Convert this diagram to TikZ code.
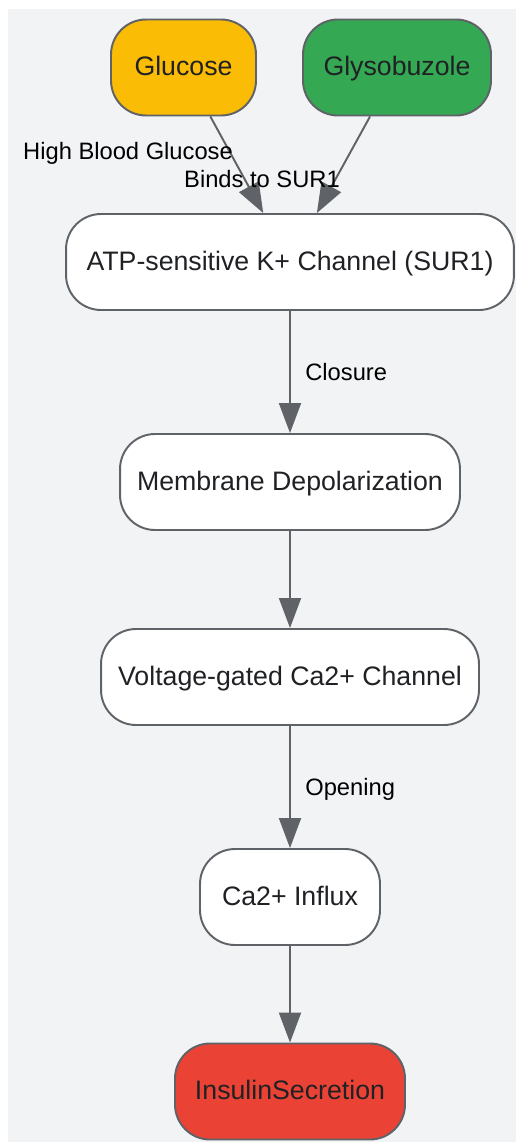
\documentclass[tikz,border=0pt]{standalone}
\usepackage{fontspec}
\setmainfont{Liberation Sans}
\usetikzlibrary{arrows.meta}
\definecolor{bgc}{HTML}{F1F3F4}
\definecolor{edgec}{HTML}{5F6368}
\definecolor{txtc}{HTML}{202124}
\definecolor{yel}{HTML}{FBBC05}
\definecolor{grn}{HTML}{34A853}
\definecolor{rd}{HTML}{EA4335}
\begin{document}
\begin{tikzpicture}[x=0.02cm,y=-0.02cm,line join=round,>={Triangle[length=0.6cm,width=0.44cm]}]
	\tikzset{box/.style={draw=edgec,line width=1.1pt,fill=white,rounded corners=0.7cm,minimum height=1.92cm,inner sep=0pt,text=txtc,text height=0.95em,text depth=0pt,font=\fontsize{15.2}{18}\selectfont},
		lbl/.style={font=\fontsize{13.5}{16}\selectfont,inner sep=0pt,text=black,text height=0.8em,text depth=0pt},
		link/.style={->,draw=edgec,line width=1.1pt}}
	\useasboundingbox (0,0) rectangle (516,1143);
	\fill[bgc] (8,9) rectangle (516,1142);
	\node[box,fill=yel,minimum width=2.9cm] (glucose) at (183.5,67.5) {Glucose};
	\node[box,fill=grn,minimum width=3.76cm] (glyso) at (397,67.5) {Glysobuzole};
	\node[box,minimum width=8.96cm] (katp) at (290,262) {ATP-sensitive K+ Channel (SUR1)};
	\node[box,minimum width=6.8cm] (depol) at (290,482) {Membrane Depolarization};
	\node[box,minimum width=7.56cm] (vgcc) at (290,677) {Voltage-gated Ca2+ Channel};
	\node[box,minimum width=3.6cm] (influx) at (290,897) {Ca2+ Influx};
	\node[box,fill=rd,minimum width=4.6cm] (insulin) at (290,1091.5) {InsulinSecretion};
	\draw[link] (glucose) -- (katp);
	\draw[link] (glyso) -- (katp);
	\draw[link] (katp) -- (depol);
	\draw[link] (depol) -- (vgcc);
	\draw[link] (vgcc) -- (influx);
	\draw[link] (influx) -- (insulin);
	\node[lbl] (lblhigh) at (128,152) {High Blood Glucose};
	\node[lbl] (lblbinds) at (262,180) {Binds to SUR1};
	\node[lbl,anchor=west] (lblclose) at (305,373) {Closure};
	\node[lbl,anchor=west] (lblopen) at (305,788) {Opening};
\end{tikzpicture}
\end{document}
